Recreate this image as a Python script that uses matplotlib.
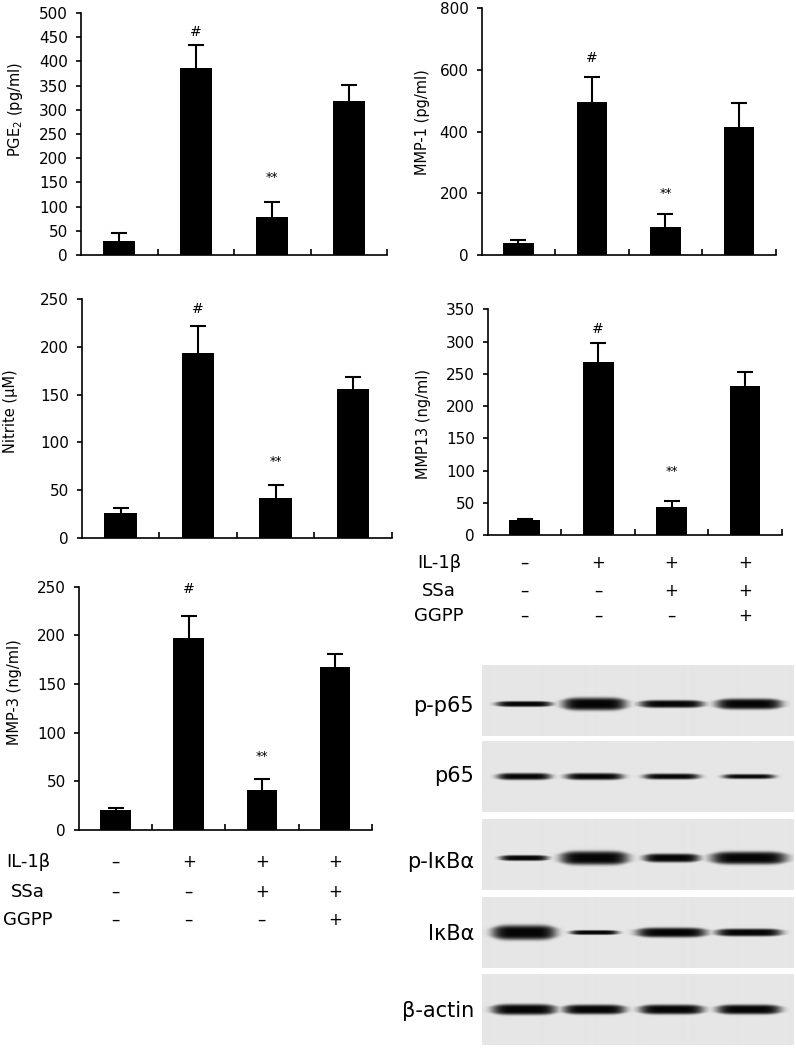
import matplotlib.pyplot as plt
import matplotlib.transforms as mtransforms
import numpy as np

plt.rcParams['font.family'] = ['DejaVu Sans']

# ---- data ----
pge2_mean = [29, 387, 79, 319]
pge2_err = [16, 46, 31, 33]
pge2_sig_y = [460, 160]

mmp1_mean = [40, 495, 92, 416]
mmp1_err = [8, 83, 40, 78]
mmp1_sig_y = [640, 198]

nitrite_mean = [26, 194, 42, 156]
nitrite_err = [5, 28, 13, 12]
nitrite_sig_y = [240, 80]

mmp13_mean = [23, 268, 43, 231]
mmp13_err = [2, 29, 9, 22]
mmp13_sig_y = [320, 98]

mmp3_mean = [21, 197, 41, 168]
mmp3_err = [2, 23, 11, 13]
mmp3_sig_y = [248, 76]

sig_marks = ['#', '**']

treatments = ['IL-1β', 'SSa', 'GGPP']
il1b = ['–', '+', '+', '+']
ssa = ['–', '–', '+', '+']
ggpp = ['–', '–', '–', '+']

blot_names = ['p-p65', 'p65', 'p-IκBα', 'IκBα', 'β-actin']
# band thickness (px) per lane
band_pp65 = [4, 11, 6, 9]
band_p65 = [5, 5, 4, 3]
band_pikba = [4, 12, 7, 11]
band_ikba = [13, 3, 8, 6]
band_actin = [9, 8, 8, 8]

W, H = 796, 1049
fig = plt.figure(figsize=(W / 100, H / 100), dpi=100)


def px_rect(x0, y0, x1, y1):
    return [x0 / W, 1 - y1 / H, (x1 - x0) / W, (y1 - y0) / H]


def bar_panel(rect, mean, err, sig_y, ymax, step, ylabel, label_pos):
    ax = fig.add_axes(rect)
    x = np.arange(len(mean)) + 0.5
    ax.errorbar(x, mean, yerr=err, fmt='none', ecolor='black',
                elinewidth=1.5, capsize=5.5, capthick=1.5, zorder=1)
    ax.bar(x, mean, width=0.42, color='black', zorder=2)
    ax.text(x[1], sig_y[0], sig_marks[0], ha='center', va='center', fontsize=10)
    ax.text(x[2], sig_y[1], sig_marks[1], ha='center', va='center', fontsize=9)
    ax.set_xlim(0, len(mean))
    ax.set_ylim(0, ymax)
    ax.set_xticks(np.arange(1, len(mean) + 1))
    ax.set_xticklabels([])
    ax.set_yticks(np.arange(0, ymax + step, step))
    ax.tick_params(axis='x', direction='in', length=4, width=1.2)
    ax.tick_params(axis='y', direction='out', length=3.5, width=1.2,
                   labelsize=11, pad=6)
    ax.spines[['top', 'right']].set_visible(False)
    ax.spines[['left', 'bottom']].set_linewidth(1.2)
    ax.set_ylabel(ylabel, fontsize=10.5)
    ax.yaxis.set_label_coords(*label_pos)
    return ax


ax1 = bar_panel(px_rect(81, 13, 387, 255), pge2_mean, pge2_err, pge2_sig_y,
                500, 50, 'PGE$_2$ (pg/ml)', (-0.183, 0.60))
ax2 = bar_panel(px_rect(481.7, 8.3, 775.7, 255), mmp1_mean, mmp1_err, mmp1_sig_y,
                800, 200, 'MMP-1 (pg/ml)', (-0.176, 0.54))
ax3 = bar_panel(px_rect(82, 299.3, 391.7, 537.7), nitrite_mean, nitrite_err, nitrite_sig_y,
                250, 50, 'Nitrite (μM)', (-0.207, 0.53))
ax4 = bar_panel(px_rect(488, 309.3, 781.7, 535), mmp13_mean, mmp13_err, mmp13_sig_y,
                350, 50, 'MMP13 (ng/ml)', (-0.194, 0.494))
ax5 = bar_panel(px_rect(79, 586.7, 371.7, 830), mmp3_mean, mmp3_err, mmp3_sig_y,
                250, 50, 'MMP-3 (ng/ml)', (-0.195, 0.567))


def treatment_table(ax, label_x, rows_y):
    trans = mtransforms.blended_transform_factory(ax.transData, fig.transFigure)
    x = np.arange(4) + 0.5
    for name, signs, y in zip(treatments, [il1b, ssa, ggpp], rows_y):
        fig.text(label_x / W, 1 - y / H, name, ha='center', va='center', fontsize=13)
        for xi, s in zip(x, signs):
            ax.text(xi, 1 - y / H, s, transform=trans, ha='center', va='center',
                    fontsize=12)


treatment_table(ax4, 439, [563, 591, 616])
treatment_table(ax5, 28, [862, 892, 920])

# ---- western blot strips ----
lane_x = [42, 112, 189, 266]
strip_w, strip_h = 311, 71
strip_tops = [665, 741, 819, 897, 974]
band_shift = [3.5, 0.5, 3.5, 0, 0]
label_base = [712, 782, 868, 940, 1017]
half_widths = [[28, 32, 32, 33], [27, 29, 28, 26], [24, 34, 28, 38],
               [32, 24, 35, 33], [32, 31, 32, 32]]
bands = [band_pp65, band_p65, band_pikba, band_ikba, band_actin]

xx, yy = np.meshgrid(np.arange(strip_w) + 0.5, np.arange(strip_h) + 0.5)
for name, thick, hws, top, shift, base in zip(blot_names, bands, half_widths,
                                               strip_tops, band_shift, label_base):
    ax = fig.add_axes(px_rect(481.7, top, 481.7 + strip_w, top + strip_h))
    dark = np.zeros((strip_h, strip_w))
    for cx, t, hw in zip(lane_x, thick, hws):
        hx = np.exp(-((xx - cx) / hw) ** 6)
        th = t * (0.5 + 0.5 * hx)
        dy = (yy - (strip_h / 2 + shift)) / (th / 2 + 0.8)
        dark = np.maximum(dark, hx * np.exp(-dy ** 4))
    img = 0.9 - 0.88 * dark
    ax.imshow(img, cmap='gray', vmin=0, vmax=1, extent=[0, strip_w, strip_h, 0],
              aspect='auto', interpolation='bilinear')
    ax.set_axis_off()
    fig.text(474 / W, 1 - base / H, name, ha='right', va='baseline', fontsize=15)

fig.savefig('out.png', dpi=100)
